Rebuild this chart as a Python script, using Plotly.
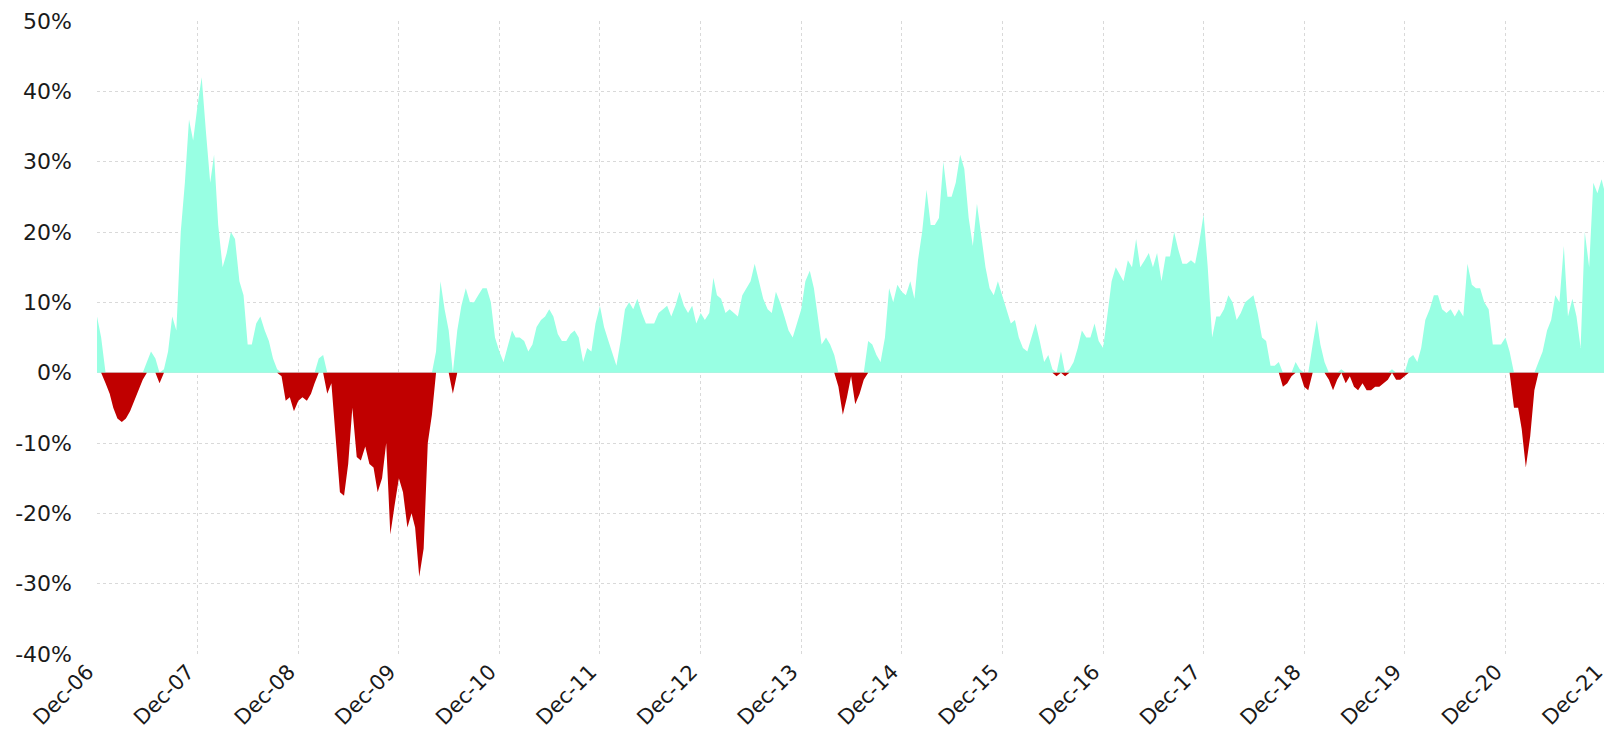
import pandas as pd
import numpy as np
import plotly.graph_objects as go

# valores (%), dos puntos por mes (dia 15 y fin de mes)
start_2006 = [8]
y2007 = [5, -1.5, -3, -5, -6.5, -7, -6.5, -5.5, -4, -2.5, -1, 1.5, 3, 2, -1.5, 0.5, 3, 8, 6, 20, 27, 36, 33, 38]
y2008 = [42, 34, 27, 31, 21, 15, 17, 20, 19, 13, 11, 4, 4, 7, 8, 6, 4.5, 2, 0.5, -0.5, -4, -3.5, -5.5, -4]
y2009 = [-3.5, -4, -3, -1.5, 2, 2.5, -3, -1.5, -9, -17, -17.5, -13, -5, -12, -12.5, -10.5, -13, -13.5, -17, -15, -10, -23, -19, -15]
y2010 = [-17, -22, -20, -22, -29, -25, -10, -6, 3, 13, 9, 6, -3, 6, 9.5, 12, 10, 10, 11, 12, 12, 10, 5, 3]
y2011 = [1.5, 4, 6, 5, 5, 4.5, 3, 4, 6.5, 7.5, 8, 9, 8, 5.5, 4.5, 4.5, 5.5, 6, 5, 1.5, 3.5, 3, 7, 9.5]
y2012 = [6.5, 4.5, 2.5, 1, 4.5, 9, 10, 9, 10.5, 8.5, 7, 7, 7, 8.5, 9, 9.5, 8, 9.5, 11.5, 9.5, 8.5, 9.5, 7, 8.5]
y2013 = [7.5, 8.5, 13.5, 11, 10.5, 8.5, 9, 8.5, 8, 11, 12, 13, 15.5, 13, 10.5, 9, 8.5, 11.5, 10, 8, 6, 5, 7, 9]
y2014 = [13, 14.5, 12, 8.5, 4, 5, 4, 2.5, -2, -6, -3.5, -0.5, -4.5, -3, -1, 4.5, 4, 2.5, 1.5, 5, 12, 10, 12.5, 11.5]
y2015 = [11, 13, 10.5, 16, 20, 26, 21, 21, 22, 30, 25, 25, 27, 31, 29, 22, 18, 24, 20, 15, 12, 11, 13, 11]
y2016 = [9, 7, 7.5, 5, 3.5, 3, 5, 7, 4.5, 1.5, 2.5, 0.5, -0.5, 3, -0.5, 0.5, 1.5, 3.5, 6, 5, 5, 7, 4.5, 3.5]
y2017 = [8, 13, 15, 14, 13, 16, 15, 19, 15, 16, 17, 15, 17, 13, 16.5, 16.5, 20, 17.5, 15.5, 15.5, 16, 15.5, 18.5, 22.5]
y2018 = [15, 5, 8, 8, 9, 11, 10, 7.5, 8.5, 10, 10.5, 11, 8.5, 5, 4.5, 1, 1, 1.5, -2, -1.5, -0.5, 1.5, 0.5, -2]
y2019 = [-2.5, 4, 7.5, 4, 1.5, -1, -2.5, -1, 0.5, -1.5, -0.5, -2, -2.5, -1.5, -2.5, -2.5, -2, -2, -1.5, -1, 0.5, -1, -1, -0.5]
y2020 = [2, 2.5, 1.5, 3.5, 7.5, 9, 11, 11, 9, 8.5, 9, 8, 9, 8, 15.5, 12.5, 12, 12, 10, 9, 4, 4, 4, 5]
y2021 = [3, -5, -5, -8, -13.5, -9, -2.5, 1.5, 3, 6, 7.5, 11, 10, 18, 8, 10.5, 8, 3.5, 20, 15, 27, 25.5, 27.5, 25]

years = list(range(2007, 2022))
values = start_2006 + y2007 + y2008 + y2009 + y2010 + y2011 + y2012 + y2013 + y2014 \
    + y2015 + y2016 + y2017 + y2018 + y2019 + y2020 + y2021

# ticks del eje y (con guion simple como en el original)
y_ticks = [-40, -30, -20, -10, 0, 10, 20, 30, 40, 50]
y_tick_text = [f"{v}%" for v in y_ticks]

# fechas: 31-dic-2006 y luego dia 15 y fin de cada mes
dates = [pd.Timestamp(2006, 12, 31)]
for yr in years:
    for m in range(1, 13):
        dates.append(pd.Timestamp(yr, m, 15))
        dates.append(pd.Timestamp(yr, m, 1) + pd.offsets.MonthEnd(0))

df = pd.DataFrame({"fecha": dates, "valor": values})
df["pos"] = df["valor"].clip(lower=0)
df["neg"] = df["valor"].clip(upper=0)

tick_dates = [pd.Timestamp(y, 12, 31) for y in range(2006, 2022)]
# espacios duros al final para que "Dec-21" no quede cortado en el borde
tick_text = [d.strftime("Dec-%y") + "\u00a0\u00a0" for d in tick_dates]

fig = go.Figure()
fig.add_trace(go.Scatter(
    x=df["fecha"], y=df["pos"], mode="lines", fill="tozeroy",
    line=dict(width=0, color="#98FFE3"), fillcolor="#98FFE3",
    hoverinfo="skip", showlegend=False
))
fig.add_trace(go.Scatter(
    x=df["fecha"], y=df["neg"], mode="lines", fill="tozeroy",
    line=dict(width=0, color="#C00000"), fillcolor="#C00000",
    hoverinfo="skip", showlegend=False
))

font_family = "DejaVu Sans, Verdana, sans-serif"

# la pagina tiene 8px de margen en el body -> figura de 1604x727
fig.update_layout(
    width=1604, height=727,
    margin=dict(l=89, r=6, t=13, b=81, autoexpand=False),
    plot_bgcolor="white", paper_bgcolor="white",
    font=dict(family=font_family, size=22, color="#1a1a1a"),
)
fig.update_xaxes(
    range=[tick_dates[0] - pd.Timedelta(hours=2), tick_dates[-1] + pd.Timedelta(hours=2)],
    tickvals=tick_dates, ticktext=tick_text, tickangle=-45,
    tickfont=dict(size=21), ticklabelstandoff=-9,
    showgrid=True, gridcolor="#d9d9d9", griddash="dot", gridwidth=1,
    zeroline=False, showline=False, ticks="", automargin=False,
    ticklabeloverflow="allow",
)
fig.update_yaxes(
    range=[-40, 50], tickvals=y_ticks, ticktext=y_tick_text,
    showgrid=True, gridcolor="#d9d9d9", griddash="dot", gridwidth=1,
    zeroline=True, zerolinecolor="#d9d9d9", zerolinewidth=1,
    showline=False, ticks="", ticklabelstandoff=24, automargin=False,
    ticklabeloverflow="allow",
)

fig.write_html("out.html")
